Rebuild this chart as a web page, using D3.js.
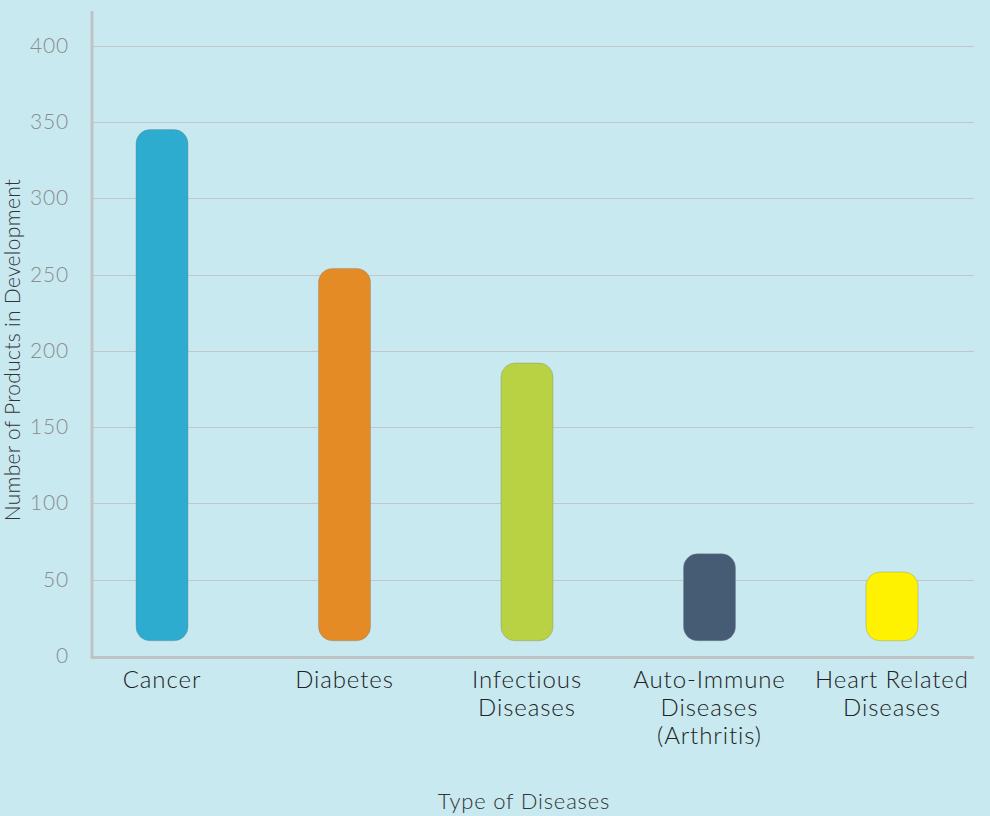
<!DOCTYPE html>
<html>
<head>
<meta charset="utf-8">
<script src="https://cdn.jsdelivr.net/npm/d3@7"></script>
<style>
  body { margin: 0; background: #c8e9f0; }
  svg { display: block; font-family: Lato, "Open Sans", sans-serif; }
</style>
</head>
<body>
<div id="chart"></div>
<script>
// values
var categories = ["Cancer", "Diabetes", "Infectious Diseases", "Auto-Immune Diseases (Arthritis)", "Heart Related Diseases"];
var labelLines = [["Cancer"], ["Diabetes"], ["Infectious", "Diseases"], ["Auto-Immune", "Diseases", "(Arthritis)"], ["Heart Related", "Diseases"]];
var products = [345, 254, 192, 67, 55];
var barColors = ["#2daccf", "#e48b26", "#b8d243", "#465c74", "#fff200"];
var yTicks = [0, 50, 100, 150, 200, 250, 300, 350, 400];
var barBase = 10;

var width = 990, height = 816;

var svg = d3.select("#chart").append("svg")
    .attr("width", width)
    .attr("height", height);

svg.append("rect")
    .attr("width", width)
    .attr("height", height)
    .attr("fill", "#c8e9f0");

var x = d3.scalePoint()
    .domain(categories)
    .range([162, 892]);

var y = d3.scaleLinear()
    .domain([0, 400])
    .range([656, 45.7]);

// gridlines
svg.append("g")
    .selectAll("line")
    .data(yTicks.filter(function(d){ return d > 0; }))
    .enter()
    .append("line")
    .attr("x1", 93)
    .attr("x2", 974)
    .attr("y1", function(d){ return Math.round(y(d)) + 0.5; })
    .attr("y2", function(d){ return Math.round(y(d)) + 0.5; })
    .attr("stroke", "#c2c6c8")
    .attr("stroke-width", 1);

// y tick labels
svg.append("g")
    .selectAll("text")
    .data(yTicks)
    .enter()
    .append("text")
    .attr("x", 69)
    .attr("y", function(d){ return y(d) + 7; })
    .attr("text-anchor", "end")
    .attr("font-size", 21)
    .attr("font-weight", 300)
    .attr("letter-spacing", 0.8)
    .attr("fill", "#8a8c8d")
    .text(function(d){ return d; });

// axes lines
svg.append("line")
    .attr("x1", 92).attr("x2", 92)
    .attr("y1", 11).attr("y2", 659)
    .attr("stroke", "#c0c3c4")
    .attr("stroke-width", 3);
svg.append("line")
    .attr("x1", 91).attr("x2", 974)
    .attr("y1", 657.5).attr("y2", 657.5)
    .attr("stroke", "#c0c3c4")
    .attr("stroke-width", 3);

// bars
var barWidth = 52;
svg.append("g")
    .selectAll("rect")
    .data(products)
    .enter()
    .append("rect")
    .attr("x", function(d, i){ return x(categories[i]) - barWidth / 2; })
    .attr("y", function(d){ return y(d); })
    .attr("width", barWidth)
    .attr("height", function(d){ return y(barBase) - y(d); })
    .attr("rx", 14)
    .attr("ry", 14)
    .attr("fill", function(d, i){ return barColors[i]; })
    .attr("stroke", "rgba(120,130,130,0.35)")
    .attr("stroke-width", 1);

// category labels, one text per line
var labels = svg.append("g")
    .selectAll("g")
    .data(categories)
    .enter()
    .append("g");
labels.each(function(c, i) {
    var g = d3.select(this);
    labelLines[i].forEach(function(line, j) {
        g.append("text")
            .attr("x", x(c))
            .attr("y", 688 + j * 28)
            .attr("text-anchor", "middle")
            .attr("font-size", 24)
            .attr("font-weight", 300)
            .attr("letter-spacing", 0.9)
            .attr("fill", "#222")
            .text(line);
    });
});

// axis titles
svg.append("text")
    .attr("x", 524)
    .attr("y", 809)
    .attr("text-anchor", "middle")
    .attr("font-size", 22)
    .attr("font-weight", 300)
    .attr("letter-spacing", 0.8)
    .attr("fill", "#333")
    .text("Type of Diseases");

svg.append("text")
    .attr("transform", "translate(20,350) rotate(-90)")
    .attr("text-anchor", "middle")
    .attr("font-size", 21)
    .attr("font-weight", 300)
    .attr("letter-spacing", 0.3)
    .attr("fill", "#333")
    .text("Number of Products in Development");
</script>
</body>
</html>
